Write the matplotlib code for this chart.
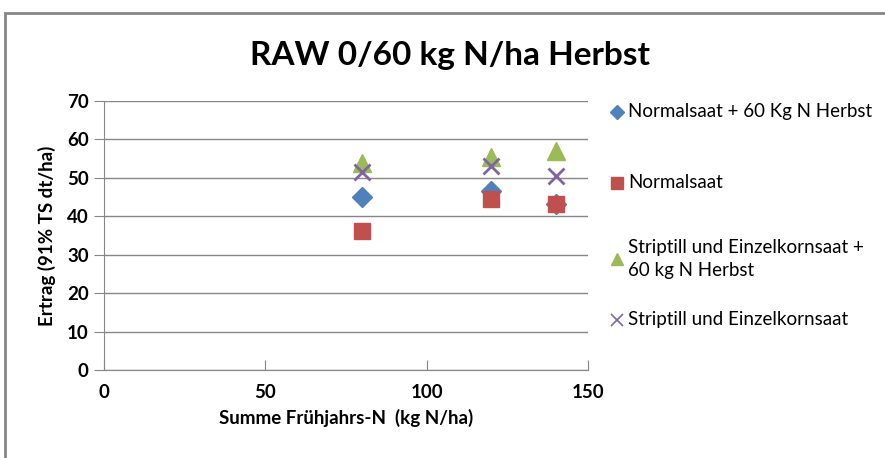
import matplotlib
matplotlib.use('Agg')
import matplotlib.pyplot as plt
from matplotlib.patches import Rectangle

plt.rcParams['font.family'] = ['Lato', 'DejaVu Sans']

# data
n_spring = [80, 120, 140]
normal_60 = [45.0, 46.6, 43.2]
normal = [36.2, 44.4, 43.1]
strip_60 = [53.8, 55.3, 57.0]
strip = [51.6, 53.0, 50.6]

labels = ['Normalsaat + 60 Kg N Herbst', 'Normalsaat',
          'Striptill und Einzelkornsaat +\n60 kg N Herbst', 'Striptill und Einzelkornsaat']
colors = ['#4F81BD', '#C0504D', '#9BBB59', '#8064A2']
markers = ['D', 's', '^', 'x']
sizes = [10.5, 12, 13, 11]
series = [normal_60, normal, strip_60, strip]

fig = plt.figure(figsize=(8.85, 4.58), dpi=100)
fig.patches.append(Rectangle((5 / 885, -0.1), 1.2, 1 - 13 / 458 + 0.1,
                             transform=fig.transFigure, fill=False,
                             edgecolor='#868686', linewidth=2))

ax = fig.add_axes([104 / 885, 1 - 370 / 458, (588 - 104) / 885, (370 - 101) / 458])

for vals, c, m, s in zip(series, colors, markers, sizes):
    if m == 'x':
        ax.plot(n_spring, vals, linestyle='none', marker=m, markersize=s,
                markeredgewidth=2, color=c, zorder=3)
    else:
        ax.plot(n_spring, vals, linestyle='none', marker=m, markersize=s,
                color=c, markeredgecolor=c, zorder=3)

ax.set_xlim(0, 150)
ax.set_ylim(0, 70)
ax.set_xticks([0, 50, 100, 150])
ax.set_yticks(range(0, 71, 10))
ax.grid(axis='y', color='#868686', linewidth=1)
ax.set_axisbelow(True)
for sp in ['top', 'right']:
    ax.spines[sp].set_visible(False)
for sp in ['left', 'bottom']:
    ax.spines[sp].set_color('#868686')
ax.tick_params(axis='y', direction='out', length=7, color='#868686', pad=4)
ax.tick_params(axis='x', direction='in', length=7, color='#868686', pad=10)
for lab in ax.get_xticklabels() + ax.get_yticklabels():
    lab.set_fontweight('bold')
    lab.set_fontsize(13.5)

ax.set_xlabel('Summe Frühjahrs-N  (kg N/ha)', fontsize=13.5, fontweight='bold', labelpad=6)
ax.set_ylabel('Ertrag (91% TS dt/ha)', fontsize=13.5, fontweight='bold', labelpad=8)

fig.text(450 / 885, 1 - 55 / 458, 'RAW 0/60 kg N/ha Herbst', fontsize=24,
         fontweight='bold', ha='center', va='center')

# legend drawn by hand
leg_y = [112, 183, 259, 320]
leg = fig.add_axes([0, 0, 1, 1], facecolor='none')
leg.set_xlim(0, 885)
leg.set_ylim(458, 0)
leg.axis('off')
for y, lab, c, m in zip(leg_y, labels, colors, markers):
    if m == 'x':
        leg.plot([617], [y], marker=m, markersize=9, markeredgewidth=1.2,
                 color=c, linestyle='none')
    else:
        leg.plot([617], [y], marker=m, markersize=7 if m == 'D' else 8.5,
                 color=c, linestyle='none')
    leg.text(628, y, lab, fontsize=13.5, va='center', ha='left', linespacing=1.45)

fig.savefig('out.png', dpi=100)
